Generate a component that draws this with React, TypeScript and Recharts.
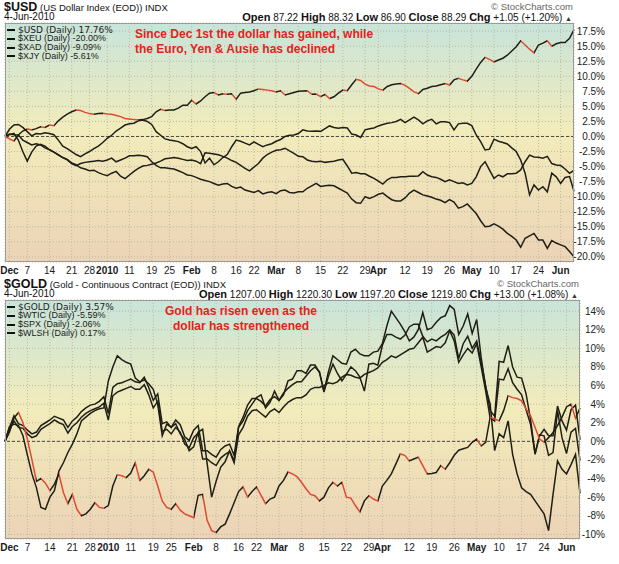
import React from 'react';
import { LineChart, Line, XAxis, YAxis, CartesianGrid, ReferenceLine } from 'recharts';

// trading days, Nov 30 2009 .. Jun 4 2010
const MONTH_DAYS: Array<[string, number[]]> = [
  ['2009-11', [30]],
  ['2009-12', [1, 2, 3, 4, 7, 8, 9, 10, 11, 14, 15, 16, 17, 18, 21, 22, 23, 24, 28, 29, 30, 31]],
  ['2010-01', [4, 5, 6, 7, 8, 11, 12, 13, 14, 15, 19, 20, 21, 22, 25, 26, 27, 28, 29]],
  ['2010-02', [1, 2, 3, 4, 5, 8, 9, 10, 11, 12, 16, 17, 18, 19, 22, 23, 24, 25, 26]],
  ['2010-03', [1, 2, 3, 4, 5, 8, 9, 10, 11, 12, 15, 16, 17, 18, 19, 22, 23, 24, 25, 26, 29, 30, 31]],
  ['2010-04', [1, 5, 6, 7, 8, 9, 12, 13, 14, 15, 16, 19, 20, 21, 22, 23, 26, 27, 28, 29, 30]],
  ['2010-05', [3, 4, 5, 6, 7, 10, 11, 12, 13, 14, 17, 18, 19, 20, 21, 24, 25, 26, 27, 28]],
  ['2010-06', [1, 2, 3, 4]],
];
const dates = MONTH_DAYS.flatMap(([m, days]) => days.map((d) => `${m}-${String(d).padStart(2, '0')}`));

const tickDates = [
  '2009-12-01', '2009-12-07', '2009-12-14', '2009-12-21', '2009-12-28', '2010-01-04', '2010-01-11',
  '2010-01-19', '2010-01-25', '2010-02-01', '2010-02-08', '2010-02-16', '2010-02-22', '2010-03-01',
  '2010-03-08', '2010-03-15', '2010-03-22', '2010-03-29', '2010-04-01', '2010-04-12', '2010-04-19',
  '2010-04-26', '2010-05-03', '2010-05-10', '2010-05-17', '2010-05-24', '2010-06-01',
];
const tickLabels = [
  'Dec', '7', '14', '21', '28', '2010', '11', '19', '25', 'Feb', '8', '16', '22', 'Mar',
  '8', '15', '22', '29', 'Apr', '12', '19', '26', 'May', '10', '17', '24', 'Jun',
];
const boldLabels = ['Dec', '2010', 'Feb', 'Mar', 'Apr', 'May', 'Jun'];

// % change since Nov 30
const usd = [
  0, -0.4, -0.75, 0.25, 0.9, 1.25, 1.1, 1.3, 1.6, 1.5,
  1.9, 1.8, 2.6, 3.2, 3.7, 4.1, 4.4, 4.3, 4.0, 3.8,
  3.7, 3.8, 3.85, 3.75, 3.7, 3.5, 3.3, 3.0, 2.9, 2.8,
  2.75, 2.8, 3.0, 3.3, 4.1, 4.5, 4.3, 4.4, 4.4, 4.7,
  5.2, 5.2, 6.0, 5.4, 5.9, 6.6, 7.2, 7.3, 6.9, 7.1,
  7.0, 7.1, 6.2, 7.2, 7.3, 7.4, 7.6, 7.9, 7.8, 7.7,
  7.6, 7.4, 7.6, 6.9, 7.1, 7.3, 7.5, 7.55, 7.6, 7.0,
  7.05, 6.6, 7.0, 6.3, 6.6, 7.2, 7.7, 7.6, 8.6, 9.5,
  9.3, 8.7, 8.4, 8.3, 7.9, 7.7, 8.3, 8.6, 8.7, 8.8,
  8.5, 8.0, 7.4, 7.1, 7.8, 8.0, 8.3, 8.4, 8.6, 8.8,
  8.55, 9.4, 9.65, 9.4, 9.2, 10.0, 11.2, 12.3, 13.15, 12.8,
  12.4, 12.7, 13.0, 13.5, 14.2, 14.9, 15.9, 15.2, 14.5, 13.9,
  15.2, 15.5, 15.9, 15.0, 15.4, 15.6, 15.6, 16.3, 17.76,
];
const xeu = [
  0, 0.4, 0.3, 0.25, -0.6, -1.0, -1.4, -1.2, -1.4, -1.9,
  -2.2, -2.6, -3.0, -3.5, -3.9, -4.5, -4.85, -4.5, -4.3, -4.2,
  -4.1, -4.0, -4.1, -3.9, -3.6, -4.2, -3.9, -3.6, -3.2, -3.2,
  -3.1, -3.2, -3.35, -4.2, -4.8, -5.2, -5.2, -5.3, -5.4, -5.7,
  -6.0, -6.4, -6.5, -6.8, -7.1, -7.3, -7.5, -7.8, -8.1, -7.9,
  -7.8, -8.3, -8.6, -8.4, -8.9, -9.1, -9.3, -9.0, -9.55, -9.3,
  -9.2, -9.5, -9.0, -8.9, -9.3, -9.4, -9.2, -9.2, -8.6, -8.2,
  -7.8, -8.3, -8.2, -8.1, -8.2, -8.6, -9.0, -9.4, -10.4, -11.0,
  -11.1, -10.0, -10.3, -10.0, -9.6, -9.4, -10.0, -10.5, -10.7, -10.7,
  -10.2, -9.4, -8.9, -9.3, -9.7, -9.9, -10.1, -10.4, -10.6, -11.0,
  -10.5, -10.9, -11.9, -11.65, -11.2, -12.0, -12.8, -14.0, -15.0, -14.9,
  -14.5, -14.9, -15.4, -16.1, -16.6, -17.2, -18.4, -16.9, -16.5, -16.1,
  -17.2, -17.2, -18.6, -17.3, -17.7, -18.0, -18.3, -19.1, -20.0,
];
const xad = [
  0, 1.2, 1.9, 2.0, 1.5, 0.8, 0.1, 0.5, 0.4, 0.6,
  0.5, 0.3, -0.6, -1.6, -2.0, -2.5, -3.0, -3.35, -2.9, -2.5,
  -2.0, -1.6, -1.0, -0.3, 0.2, 0.9, 1.4, 1.9, 2.1, 2.2,
  2.6, 2.75, 2.5, 2.0, 0.8, 0.2, -0.4, -0.6, -0.7, -0.85,
  -1.2, -1.7, -2.0, -1.7, -2.5, -4.4, -3.6, -4.7, -4.2, -3.5,
  -3.0, -1.7, -0.6, -0.8, -1.1, -1.4, -0.9, -1.3, -1.7, -1.4,
  -1.2, -0.8, -0.5, 0.0, 0.2, 0.25, 0.5, 1.1, 0.9, 0.85,
  0.9, 0.85, 1.3, 1.75, 1.5, 1.35, 1.5, 1.4, 0.4, 0.25,
  -0.15, 1.1, 1.3, 1.4, 1.75, 2.0, 2.2, 2.3, 2.5, 2.85,
  2.3, 2.75, 3.2, 2.75, 2.1, 2.6, 2.85, 2.1, 2.45, 2.45,
  2.3, 1.1, 2.1, 2.2, 2.2, 1.8, 0.25, -0.85, -2.25, -2.1,
  -0.45, -0.8, -1.0, -1.25, -1.9, -2.5, -3.9, -6.1, -9.7, -8.05,
  -8.9, -8.35, -9.2, -6.1, -6.7, -7.8, -6.8, -6.65, -9.09,
];
const xjy = [
  0, 0.3, 0.5, -0.6, -2.5, -4.1, -2.6, -1.6, -1.3, -1.6,
  -2.2, -2.6, -3.1, -3.5, -3.8, -4.4, -4.7, -5.2, -5.4, -5.7,
  -5.6, -6.0, -6.3, -6.5, -6.1, -5.8, -6.6, -7.0, -6.4, -5.8,
  -5.3, -4.9, -4.8, -4.6, -4.4, -4.1, -3.7, -3.6, -3.5, -3.6,
  -3.8, -4.0, -3.9, -4.1, -4.5, -2.7, -2.8, -2.9, -3.05, -3.3,
  -3.6, -4.0, -4.3, -4.8, -5.3, -5.7, -5.1, -4.5, -3.6, -3.0,
  -2.6, -2.3, -2.2, -1.95, -2.4, -2.8, -3.3, -3.35, -3.9, -4.1,
  -4.2, -4.1, -4.3, -4.2, -4.1, -3.9, -3.8, -4.9, -6.1, -6.0,
  -6.2, -6.2, -6.6, -6.95, -7.4, -7.9, -7.2, -6.8, -6.8, -6.7,
  -6.7, -6.6, -6.6, -6.55, -5.85, -6.4, -6.7, -6.8, -7.1, -7.5,
  -7.2, -7.5, -7.8, -7.7, -8.05, -7.8, -6.7, -5.0, -4.2, -5.6,
  -6.95, -6.4, -6.7, -6.2, -6.2, -6.1, -5.55, -4.2, -3.1, -3.4,
  -3.45, -3.6, -3.3, -4.5, -4.75, -4.8, -5.4, -6.1, -5.61,
];

const gold = [
  0, 1.0, 2.5, 3.1, 2.0, 0.2, -2.0, -4.3, -4.0, -4.5,
  -5.3, -4.6, -3.5, -5.5, -6.7, -5.7, -7.3, -8.0, -7.8, -7.3,
  -6.6, -7.1, -7.2, -6.9, -4.8, -3.6, -3.7, -3.9, -3.4, -2.3,
  -4.2, -3.7, -3.0, -3.3, -4.8, -6.4, -7.1, -7.3, -6.7, -7.4,
  -7.8, -8.0, -8.2, -5.8, -5.7, -8.5, -9.6, -9.8, -9.2, -8.9,
  -7.8, -6.6, -5.4, -4.9, -6.0, -5.4, -4.9, -5.8, -6.7, -6.2,
  -6.0, -4.8, -4.2, -3.3, -3.5, -3.8, -4.4, -5.1, -5.7, -5.85,
  -6.4, -6.0, -5.0, -4.4, -4.8, -4.4, -6.0, -6.1, -6.9, -7.6,
  -6.4, -5.85, -6.2, -6.4, -4.8, -4.2, -3.5, -2.45, -1.35, -1.5,
  -2.1, -1.9, -1.7, -2.6, -3.5, -3.45, -3.35, -2.6, -3.0, -2.3,
  -1.5, -0.95, -0.8, -0.65, -0.1, 0.25, -0.5, -0.1, 2.6, 2.4,
  2.2, 3.3, 4.9, 4.7, 4.6, 4.35, 3.5, 2.75, 1.5, 0.25,
  -0.1, 0.4, 0.95, 1.7, 2.6, 3.7, 4.0, 2.5, 3.57,
];
const wtic = [
  0, 1.6, 1.85, 1.7, 0.6, -1.5, -3.5, -5.0, -7.1, -7.3,
  -6.0, -5.3, -3.2, -2.3, -1.2, -0.3, 0.8, 2.2, 2.6, 3.0,
  3.3, 3.5, 3.6, 6.5, 8.0, 9.2, 8.8, 8.5, 8.3, 6.8,
  6.4, 6.6, 6.2, 5.6, 4.0, 0.6, 1.85, 1.5, 1.9, 0.8,
  0.2, -1.0, -0.6, 1.0, 1.3, -2.4, -6.0, -4.3, -2.8, -2.2,
  -1.0, -2.1, 1.5, 2.2, 3.3, 4.0, 4.7, 5.0, 3.6, 4.2,
  5.4, 4.4, 5.0, 6.5, 6.7, 7.6, 7.6, 7.3, 8.2, 8.2,
  7.4, 5.4, 7.5, 9.2, 8.8, 8.4, 8.3, 9.6, 9.9, 9.4,
  9.2, 9.2, 9.6, 9.7, 10.5, 12.4, 14.0, 13.3, 12.6, 11.8,
  10.8, 11.2, 12.0, 13.85, 12.0, 12.2, 12.8, 13.3, 13.5, 14.6,
  14.2, 11.5, 12.4, 13.7, 11.6, 13.1, 9.0, 5.8, 4.0, -1.0,
  0.8, 0.4, 2.2, -1.4, -3.5, -5.0, -5.4, -5.7, -6.4, -7.1,
  -7.8, -9.6, -5.7, -2.1, -3.0, -3.5, -2.5, -1.4, -5.59,
];
const spx = [
  0, 1.2, 2.2, 1.5, 1.4, 0.8, 0.4, 0.6, 1.3, 1.6,
  1.9, 2.3, 2.0, 1.8, 0.9, 1.6, 2.0, 2.6, 3.0, 3.3,
  3.5, 3.7, 4.1, 2.3, 4.9, 5.3, 5.5, 5.7, 5.9, 5.6,
  5.6, 6.1, 5.0, 3.6, 4.3, 1.1, 1.3, 0.8, 1.5, 1.0,
  -0.3, -0.7, 0.4, 0.9, -1.9, -1.9, -2.3, -2.6, -1.8, -1.4,
  -1.1, -2.3, 0.7, 1.5, 2.7, 3.3, 3.4, 3.0, 2.6, 3.2,
  3.5, 3.1, 3.7, 4.2, 4.5, 4.7, 4.7, 5.0, 5.6, 5.8,
  5.8, 6.0, 6.3, 6.2, 6.4, 6.9, 7.2, 7.1, 6.9, 6.8,
  7.2, 7.4, 7.6, 7.9, 8.5, 8.8, 9.2, 9.0, 9.3, 9.6,
  9.9, 10.0, 10.6, 11.2, 9.6, 9.9, 10.2, 10.1, 10.6, 11.9,
  10.8, 8.5, 9.3, 10.0, 9.5, 10.5, 8.0, 5.4, 2.5, 2.2,
  6.7, 6.6, 7.8, 6.3, 5.6, 5.0, 3.4, 1.8, -1.4, 0.7,
  0.6, -1.5, -1.2, 3.3, 0.4, -1.3, 1.0, 1.4, -2.06,
];
const wlsh = [
  0, 1.5, 2.75, 1.9, 1.7, 1.2, 0.8, 1.0, 1.7, 2.0,
  2.3, 2.7, 2.5, 2.3, 1.5, 2.2, 2.6, 3.2, 3.6, 3.9,
  4.0, 4.3, 4.8, 3.0, 5.8, 6.2, 6.3, 6.5, 6.7, 6.4,
  6.3, 6.9, 5.8, 4.4, 5.1, 1.9, 2.1, 1.5, 2.3, 1.8,
  0.5, 0.1, 1.2, 1.7, -1.0, -1.0, -1.4, -1.7, -0.9, -0.5,
  -0.3, -1.5, 1.6, 2.6, 3.9, 4.6, 4.6, 4.3, 3.8, 4.5,
  4.8, 4.4, 5.2, 5.7, 6.1, 6.4, 6.4, 7.0, 7.6, 8.0,
  7.5, 5.3, 7.0, 8.3, 7.3, 6.5, 7.2, 8.0, 7.6, 6.9,
  5.4, 8.3, 8.4, 8.2, 10.3, 11.5, 11.5, 11.2, 11.0, 11.4,
  12.3, 12.6, 12.6, 11.3, 10.7, 11.0, 10.8, 11.2, 11.5, 12.0,
  11.4, 8.9, 10.5, 11.3, 10.0, 10.8, 8.5, 6.0, 3.3, 2.7,
  8.6, 8.5, 10.3, 8.0, 6.9, 6.8, 5.1, 2.3, -1.3, 0.6,
  1.3, 0.6, 0.6, 3.8, 2.2, 1.2, 3.4, 3.9, 0.17,
];

const topTicks = [-20, -17.5, -15, -12.5, -10, -7.5, -5, -2.5, 0, 2.5, 5, 7.5, 10, 12.5, 15, 17.5];
const bottomTicks = [-10, -8, -6, -4, -2, 0, 2, 4, 6, 8, 10, 12, 14];

const RED = '#dd4a34';
const INK = '#1f1f16';
const SANS = "Arial, 'Liberation Sans', sans-serif";

const rows = dates.map((date, i) => ({
  i, date,
  usd: usd[i], xeu: xeu[i], xad: xad[i], xjy: xjy[i],
  gold: gold[i], wtic: wtic[i], spx: spx[i], wlsh: wlsh[i],
}));
const xTicks = tickDates.map((d) => dates.indexOf(d));
const labelAt = (i: number) => tickLabels[xTicks.indexOf(i)] ?? '';

// down days of the first series are drawn red
function downStops(values: number[]) {
  const n = values.length - 1;
  const out: React.ReactNode[] = [];
  for (let k = 1; k <= n; k++) {
    const c = values[k] < values[k - 1] ? RED : INK;
    out.push(<stop key={'a' + k} offset={(k - 1) / n} stopColor={c} />);
    out.push(<stop key={'b' + k} offset={k / n} stopColor={c} />);
  }
  return out;
}

type Series = { key: string; values: number[]; legend: string };

type PanelProps = {
  id: string;
  top: number;
  plotRight: number;
  series: Series[];
  domain: [number, number];
  yTicks: number[];
  yFmt: (v: number) => string;
  symbol: string;
  name: string;
  ohlc: Array<[string, string]>;
  note: string[];
  noteStyle: React.CSSProperties;
};

function Panel(p: PanelProps) {
  const H = 280;
  const plotTop = 23;
  const plotBottom = 262;
  const yW = 36;
  const first = p.series[0];
  return (
    <div style={{ position: 'absolute', left: 0, top: p.top, width: 619, height: H }}>
      <LineChart
        width={619}
        height={H}
        data={rows}
        margin={{ top: plotTop, left: 5, right: 619 - p.plotRight - yW, bottom: H - plotBottom - 14 }}
      >
        <defs>
          <linearGradient id={'bg-' + p.id} x1="0" y1="0" x2="0" y2="1">
            <stop offset="0" stopColor="#c8e4da" />
            <stop offset="0.45" stopColor="#f2ecbb" />
            <stop offset="1" stopColor="#ecd3b6" />
          </linearGradient>
          <linearGradient id={'ln-' + p.id} x1="0" y1="0" x2="1" y2="0">
            {downStops(first.values)}
          </linearGradient>
        </defs>
        <CartesianGrid stroke="#bdb9a6" strokeDasharray="1 2" fill={`url(#bg-${p.id})`} fillOpacity={1} />
        <XAxis
          dataKey="i"
          type="number"
          domain={[0, dates.length - 1]}
          ticks={xTicks}
          interval={0}
          height={14}
          axisLine={false}
          tickLine={false}
          tick={(t: any) => {
            const lab = labelAt(t.payload.value);
            return (
              <text
                x={t.x}
                y={plotBottom + 12}
                textAnchor="middle"
                fontFamily={SANS}
                fontSize={10}
                fontWeight={boldLabels.includes(lab) ? 'bold' : 'normal'}
                fill="#1a1a1a"
              >
                {lab}
              </text>
            );
          }}
        />
        <YAxis
          orientation="right"
          type="number"
          width={yW}
          domain={p.domain}
          allowDataOverflow
          ticks={p.yTicks}
          interval={0}
          axisLine={false}
          tickLine={false}
          tick={(t: any) => (
            <text x={605} y={t.y} dy={3.5} textAnchor="end" fontFamily={SANS} fontSize={10} fill="#222">
              {p.yFmt(t.payload.value)}
            </text>
          )}
        />
        <ReferenceLine y={0} stroke="#4a4a40" strokeDasharray="3 2" />
        {p.series.slice(1).map((s) => (
          <Line
            key={s.key}
            dataKey={s.key}
            stroke={INK}
            strokeWidth={1.5}
            dot={false}
            activeDot={false}
            isAnimationActive={false}
          />
        ))}
        <Line
          dataKey={first.key}
          stroke={`url(#ln-${p.id})`}
          strokeWidth={1.5}
          dot={false}
          activeDot={false}
          isAnimationActive={false}
        />
      </LineChart>

      {/* plot frame */}
      <div
        style={{
          position: 'absolute', left: 5, top: plotTop, width: p.plotRight - 5, height: plotBottom - plotTop,
          border: '1px solid #9c9c94', boxSizing: 'border-box', pointerEvents: 'none',
        }}
      />

      {/* header */}
      <div style={{ position: 'absolute', left: 4, top: 1.5, fontSize: 12.5, lineHeight: '11px', whiteSpace: 'nowrap', fontFamily: SANS, color: '#111' }}>
        <span style={{ fontWeight: 'bold' }}>{p.symbol}</span>
        <span style={{ fontSize: 9.5 }}> {p.name} INDX</span>
      </div>
      <div style={{ position: 'absolute', right: 619 - p.plotRight + 1, top: 2, lineHeight: '9px', fontSize: 9.5, fontFamily: SANS, color: '#666', whiteSpace: 'nowrap' }}>
        © StockCharts.com
      </div>
      <div style={{ position: 'absolute', left: 4, top: 12.5, lineHeight: '8px', fontSize: 10, fontFamily: SANS, color: '#111' }}>
        4-Jun-2010
      </div>
      <div style={{ position: 'absolute', right: 619 - p.plotRight + 2, top: 12.5, fontSize: 10, lineHeight: '8px', fontFamily: SANS, color: '#111', whiteSpace: 'nowrap' }}>
        {p.ohlc.map(([k, v]) => (
          <span key={k}>
            <span style={{ fontSize: 11, fontWeight: 'bold' }}>{k}</span>
            <span> {v} </span>
          </span>
        ))}
        <span style={{ fontSize: 7, color: '#333' }}>▲</span>
      </div>

      {/* legend */}
      {p.series.map((s, k) => (
        <div
          key={s.key}
          style={{
            position: 'absolute', left: 7, top: 25.5 + k * 8.7, height: 8.5, lineHeight: '9px', whiteSpace: 'nowrap',
            fontFamily: k === 0 ? "'DejaVu Sans', Verdana, sans-serif" : SANS, fontSize: 9, color: '#222',
          }}
        >
          <span style={{ display: 'inline-block', width: 8, height: 2, background: '#111', verticalAlign: 'middle', marginRight: 3 }} />
          {s.legend}
        </div>
      ))}

      {/* note */}
      <div style={{ position: 'absolute', fontFamily: SANS, fontWeight: 'bold', fontSize: 12, lineHeight: '15px', color: '#e3231b', whiteSpace: 'nowrap', ...p.noteStyle }}>
        {p.note.map((l) => (
          <div key={l}>{l}</div>
        ))}
      </div>
    </div>
  );
}

export default function App() {
  return (
    <div style={{ position: 'absolute', left: 0, top: 0, width: 619, height: 564, background: '#fff', overflow: 'hidden' }}>
      <Panel
        id="usd"
        top={0}
        plotRight={574}
        series={[
          { key: 'usd', values: usd, legend: '$USD (Daily) 17.76%' },
          { key: 'xeu', values: xeu, legend: '$XEU (Daily) -20.00%' },
          { key: 'xad', values: xad, legend: '$XAD (Daily) -9.09%' },
          { key: 'xjy', values: xjy, legend: '$XJY (Daily) -5.61%' },
        ]}
        domain={[-20.85, 18.85]}
        yTicks={topTicks}
        yFmt={(v) => v.toFixed(1) + '%'}
        symbol="$USD"
        name="(US Dollar Index (EOD))"
        ohlc={[['Open', '87.22'], ['High', '88.32'], ['Low', '86.90'], ['Close', '88.29'], ['Chg', '+1.05 (+1.20%)']]}
        note={['Since Dec 1st the dollar has gained, while', 'the Euro, Yen & Ausie has declined']}
        noteStyle={{ left: 135, top: 27 }}
      />
      <Panel
        id="gold"
        top={277}
        plotRight={580}
        series={[
          { key: 'gold', values: gold, legend: '$GOLD (Daily) 3.57%' },
          { key: 'wtic', values: wtic, legend: '$WTIC (Daily) -5.59%' },
          { key: 'spx', values: spx, legend: '$SPX (Daily) -2.06%' },
          { key: 'wlsh', values: wlsh, legend: '$WLSH (Daily) 0.17%' },
        ]}
        domain={[-10.5, 15.2]}
        yTicks={bottomTicks}
        yFmt={(v) => v + '%'}
        symbol="$GOLD"
        name="(Gold - Continuous Contract (EOD))"
        ohlc={[['Open', '1207.00'], ['High', '1220.30'], ['Low', '1197.20'], ['Close', '1219.80'], ['Chg', '+13.00 (+1.08%)']]}
        note={['Gold has risen even as the', 'dollar has strengthened']}
        noteStyle={{ left: 141, width: 200, top: 27, textAlign: 'center' }}
      />
    </div>
  );
}
